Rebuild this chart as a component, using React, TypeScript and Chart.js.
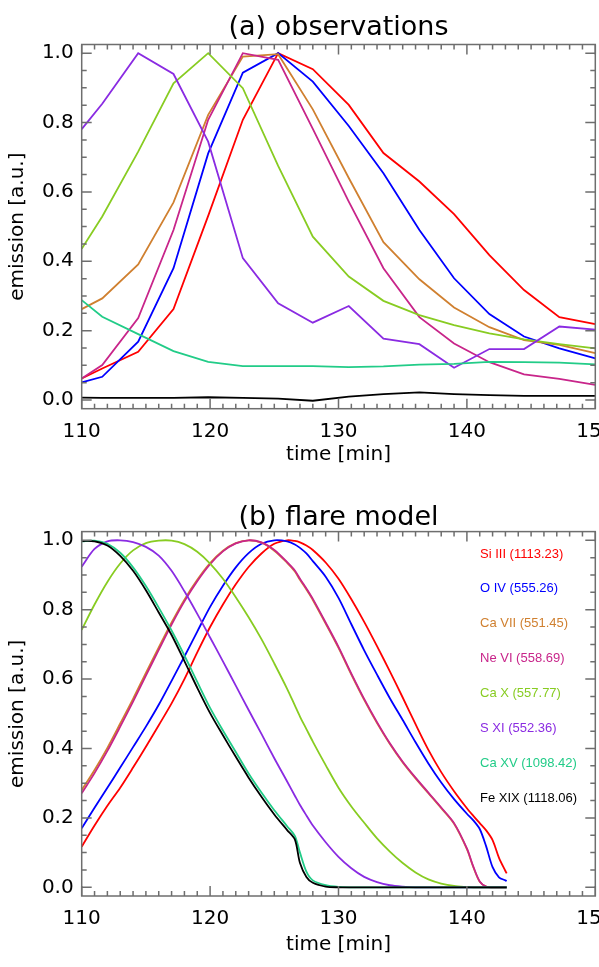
import React, { useEffect, useRef } from 'react';
import { Chart, registerables } from 'chart.js';

Chart.register(...registerables);

// ---------- labels / styling ----------
const SERIES_NAMES = ['Si III', 'O IV', 'Ca VII', 'Ne VI', 'Ca X', 'S XI', 'Ca XV', 'Fe XIX'];
const WAVELENGTHS = ['1113.23', '555.26', '551.45', '558.69', '557.77', '552.36', '1098.42', '1118.06'];
const COLORS = ['#ff0000', '#0000ff', '#d08030', '#c8258a', '#88cc22', '#8a2be2', '#22cc88', '#000000'];
const X_TICKS = [110, 120, 130, 140, 150];
const Y_TICKS = [0.0, 0.2, 0.4, 0.6, 0.8, 1.0];

// ---------- (a) observations ----------
const T_OBS = [110, 111.6, 114.4, 117.15, 119.85, 122.55, 125.3, 128.0, 130.8, 133.5, 136.3, 139.0, 141.75, 144.45, 147.2, 150];
const SI_III_OBS = [0.062, 0.091, 0.139, 0.262, 0.531, 0.808, 1.0, 0.954, 0.851, 0.712, 0.630, 0.536, 0.418, 0.317, 0.239, 0.219];
const O_IV_OBS = [0.051, 0.067, 0.168, 0.380, 0.711, 0.944, 1.0, 0.918, 0.790, 0.654, 0.490, 0.351, 0.248, 0.183, 0.149, 0.120];
const CA_VII_OBS = [0.262, 0.293, 0.391, 0.570, 0.822, 0.990, 0.997, 0.838, 0.640, 0.455, 0.348, 0.267, 0.210, 0.173, 0.159, 0.135];
const NE_VI_OBS = [0.062, 0.101, 0.236, 0.490, 0.808, 1.0, 0.981, 0.782, 0.572, 0.380, 0.239, 0.163, 0.109, 0.074, 0.061, 0.044];
const CA_X_OBS = [0.436, 0.529, 0.716, 0.913, 1.0, 0.899, 0.675, 0.471, 0.356, 0.286, 0.245, 0.216, 0.192, 0.175, 0.161, 0.149];
const S_XI_OBS = [0.781, 0.854, 1.0, 0.940, 0.745, 0.409, 0.279, 0.223, 0.271, 0.177, 0.161, 0.093, 0.147, 0.147, 0.212, 0.203];
const CA_XV_OBS = [0.288, 0.240, 0.190, 0.141, 0.110, 0.098, 0.098, 0.098, 0.095, 0.097, 0.102, 0.104, 0.110, 0.109, 0.108, 0.103];
const FE_XIX_OBS = [0.007, 0.006, 0.006, 0.006, 0.008, 0.006, 0.004, -0.002, 0.010, 0.017, 0.022, 0.017, 0.014, 0.012, 0.012, 0.012];

// ---------- (b) flare model ----------
const T_MOD = [110, 111, 112, 113, 114, 115, 116, 117, 118, 119, 120, 121, 122, 123, 124, 125, 126,
  126.6, 127, 127.5, 128, 129, 130, 131, 132, 133, 134, 135, 136, 137, 138, 139, 140, 140.5, 141, 141.5, 142, 142.5, 143, 143.1];
const SI_III_MOD = [0.117, 0.178, 0.235, 0.287, 0.345, 0.405, 0.467, 0.530, 0.600, 0.677, 0.750, 0.815, 0.873, 0.923, 0.962, 0.990, 1.0,
  0.998, 0.994, 0.985, 0.972, 0.936, 0.889, 0.830, 0.765, 0.695, 0.622, 0.547, 0.470, 0.396, 0.332, 0.277, 0.228, 0.206, 0.185, 0.164, 0.136, 0.085, 0.047, 0.040];
const O_IV_MOD = [0.170, 0.229, 0.287, 0.345, 0.404, 0.463, 0.526, 0.595, 0.665, 0.737, 0.808, 0.869, 0.922, 0.963, 0.990, 1.0, 0.997,
  0.988, 0.978, 0.962, 0.940, 0.895, 0.834, 0.758, 0.683, 0.613, 0.545, 0.482, 0.418, 0.357, 0.302, 0.254, 0.212, 0.193, 0.168, 0.118, 0.058, 0.029, 0.020, 0.018];
const CA_VII_MOD = [0.280, 0.338, 0.402, 0.472, 0.543, 0.618, 0.691, 0.763, 0.829, 0.886, 0.934, 0.970, 0.992, 1.0, 0.993, 0.970, 0.935,
  0.910, 0.886, 0.858, 0.828, 0.760, 0.690, 0.613, 0.540, 0.473, 0.413, 0.360, 0.314, 0.271, 0.228, 0.183, 0.110, 0.058, 0.016, 0.002, 0, 0, 0, 0];
const NE_VI_MOD = [0.271, 0.329, 0.393, 0.463, 0.535, 0.610, 0.684, 0.757, 0.824, 0.882, 0.931, 0.968, 0.991, 1.0, 0.994, 0.972, 0.937,
  0.913, 0.889, 0.861, 0.831, 0.763, 0.693, 0.616, 0.543, 0.476, 0.415, 0.362, 0.316, 0.273, 0.230, 0.185, 0.112, 0.060, 0.017, 0.002, 0, 0, 0, 0];
const CA_X_MOD = [0.742, 0.815, 0.880, 0.933, 0.971, 0.992, 0.999, 0.999, 0.989, 0.967, 0.933, 0.889, 0.836, 0.778, 0.715, 0.645, 0.572,
  0.524, 0.492, 0.456, 0.420, 0.352, 0.287, 0.233, 0.186, 0.141, 0.103, 0.070, 0.043, 0.023, 0.011, 0.004, 0.001, 0, 0, 0, 0, 0, 0, 0];
const S_XI_MOD = [0.924, 0.975, 0.997, 1.0, 0.995, 0.981, 0.956, 0.912, 0.853, 0.788, 0.720, 0.651, 0.581, 0.511, 0.442, 0.372, 0.305,
  0.264, 0.237, 0.207, 0.178, 0.130, 0.088, 0.055, 0.030, 0.015, 0.006, 0.002, 0, 0, 0, 0, 0, 0, 0, 0, 0, 0, 0, 0];
const CA_XV_MOD = [0.997, 0.999, 0.990, 0.964, 0.922, 0.868, 0.806, 0.740, 0.668, 0.592, 0.517, 0.452, 0.390, 0.328, 0.273, 0.222, 0.176,
  0.148, 0.100, 0.045, 0.020, 0.006, 0.001, 0, 0, 0, 0, 0, 0, 0, 0, 0, 0, 0, 0, 0, 0, 0, 0, 0];
const FE_XIX_MOD = [0.998, 0.997, 0.985, 0.955, 0.912, 0.856, 0.792, 0.727, 0.652, 0.575, 0.502, 0.438, 0.376, 0.316, 0.261, 0.210, 0.165,
  0.138, 0.070, 0.030, 0.013, 0.002, 0, 0, 0, 0, 0, 0, 0, 0, 0, 0, 0, 0, 0, 0, 0, 0, 0, 0];

const OBS_SERIES = [SI_III_OBS, O_IV_OBS, CA_VII_OBS, NE_VI_OBS, CA_X_OBS, S_XI_OBS, CA_XV_OBS, FE_XIX_OBS];
const MOD_SERIES = [SI_III_MOD, O_IV_MOD, CA_VII_MOD, NE_VI_MOD, CA_X_MOD, S_XI_MOD, CA_XV_MOD, FE_XIX_MOD];

// ---------- layout ----------
const W = 599;
const AXIS_COLOR = '#6e6e6e';
const FONT = '"DejaVu Sans", "Liberation Sans", Arial, sans-serif';

const framePlugin = {
  id: 'frame',
  afterDraw(chart: any, _args: any, opts: any) {
    const { ctx, chartArea: a, scales } = chart;
    const xs = scales.x;
    const ys = scales.y;
    ctx.save();
    ctx.strokeStyle = AXIS_COLOR;
    ctx.lineWidth = 1.5;
    ctx.beginPath();
    for (let v = 110; v <= 150.0001; v += 1) {
      const px = xs.getPixelForValue(v);
      const major = Math.abs(v % 10) < 1e-6;
      const L = major ? 10 : 5;
      ctx.moveTo(px, a.bottom); ctx.lineTo(px, a.bottom - L);
      ctx.moveTo(px, a.top); ctx.lineTo(px, a.top + L);
    }
    for (let k = 0; k <= 20; k++) {
      const v = k * 0.05;
      const py = ys.getPixelForValue(v);
      const major = k % 4 === 0;
      const L = major ? 10 : 5;
      ctx.moveTo(a.left, py); ctx.lineTo(a.left + L, py);
      ctx.moveTo(a.right, py); ctx.lineTo(a.right - L, py);
    }
    ctx.stroke();
    ctx.strokeRect(a.left, a.top, a.right - a.left, a.bottom - a.top);

    ctx.fillStyle = '#000';
    ctx.font = `27px ${FONT}`;
    ctx.textAlign = 'center';
    ctx.textBaseline = 'alphabetic';
    ctx.fillText(opts.title, (a.left + a.right) / 2, opts.titleBaseline);

    if (opts.legend) {
      ctx.font = '13px "Liberation Sans", Arial, sans-serif';
      ctx.textAlign = 'left';
      SERIES_NAMES.forEach((n, i) => {
        ctx.fillStyle = COLORS[i];
        ctx.fillText(`${n} (${WAVELENGTHS[i]})`, a.left + 398.3, a.top + 26 + i * 34.86);
      });
    }
    ctx.restore();
  },
};

function makeConfig(times: number[], series: number[][], smooth: boolean, title: string,
  padTop: number, xAxisH: number, titleBaseline: number, xTitlePad: number, legend: boolean): any {
  const n = series.length;
  return {
    type: 'line',
    data: {
      datasets: series.map((vals, i) => ({
        label: SERIES_NAMES[i],
        data: times.map((t, j) => ({ x: t, y: vals[j] })),
        borderColor: COLORS[i],
        backgroundColor: COLORS[i],
        borderWidth: 1.8,
        pointRadius: 0,
        fill: false,
        tension: smooth ? 0.3 : 0,
        order: n - i,
      })),
    },
    options: {
      responsive: false,
      animation: false,
      devicePixelRatio: 1,
      layout: { padding: { top: padTop, right: 3.7, left: 0, bottom: 0 } },
      plugins: {
        legend: { display: false },
        tooltip: { enabled: false },
        frame: { title, titleBaseline, legend },
      },
      scales: {
        x: {
          type: 'linear',
          min: 110,
          max: 150,
          grid: { display: false, drawTicks: false },
          border: { display: false },
          afterBuildTicks: (s: any) => { s.ticks = X_TICKS.map((v) => ({ value: v })); },
          ticks: {
            color: '#000',
            font: { family: FONT, size: 20 },
            padding: 11,
            maxRotation: 0,
            autoSkip: false,
            callback: (v: any) => String(v),
          },
          title: {
            display: true,
            text: 'time [min]',
            color: '#000',
            font: { family: FONT, size: 20 },
            padding: { top: 0, bottom: xTitlePad },
          },
          afterFit: (s: any) => { s.height = xAxisH; s.paddingLeft = 0; s.paddingRight = 0; },
        },
        y: {
          type: 'linear',
          min: -0.025,
          max: 1.025,
          grid: { display: false, drawTicks: false },
          border: { display: false },
          afterBuildTicks: (s: any) => { s.ticks = Y_TICKS.map((v) => ({ value: v })); },
          ticks: {
            color: '#000',
            font: { family: FONT, size: 20 },
            padding: 8,
            callback: (v: any) => Number(v).toFixed(1),
          },
          title: {
            display: true,
            text: 'emission [a.u.]',
            color: '#000',
            font: { family: FONT, size: 20 },
            padding: { top: 5.5, bottom: 0 },
          },
          afterFit: (s: any) => { s.width = 81.7; s.paddingTop = 0; s.paddingBottom = 0; },
        },
      },
    },
    plugins: [framePlugin],
  };
}

function ChartCanvas({ top, height, config }: { top: number; height: number; config: () => any }) {
  const ref = useRef<HTMLCanvasElement>(null);
  useEffect(() => {
    const chart = new Chart(ref.current as HTMLCanvasElement, config());
    return () => chart.destroy();
  }, []);
  return (
    <canvas
      ref={ref}
      width={W}
      height={height}
      style={{ position: 'absolute', left: 0, top, width: W, height, display: 'block' }}
    />
  );
}

export default function App() {
  return (
    <div style={{ position: 'absolute', left: 0, top: 0, width: W, height: 967, background: '#fff' }}>
      <ChartCanvas
        top={0}
        height={480}
        config={() => makeConfig(T_OBS, OBS_SERIES, false, '(a) observations', 44.5, 480 - 408.7, 35, 13, false)}
      />
      <ChartCanvas
        top={480}
        height={487}
        config={() => makeConfig(T_MOD, MOD_SERIES, true, '(b) flare model', 51.6, 487 - 416, 45, 10, true)}
      />
    </div>
  );
}
